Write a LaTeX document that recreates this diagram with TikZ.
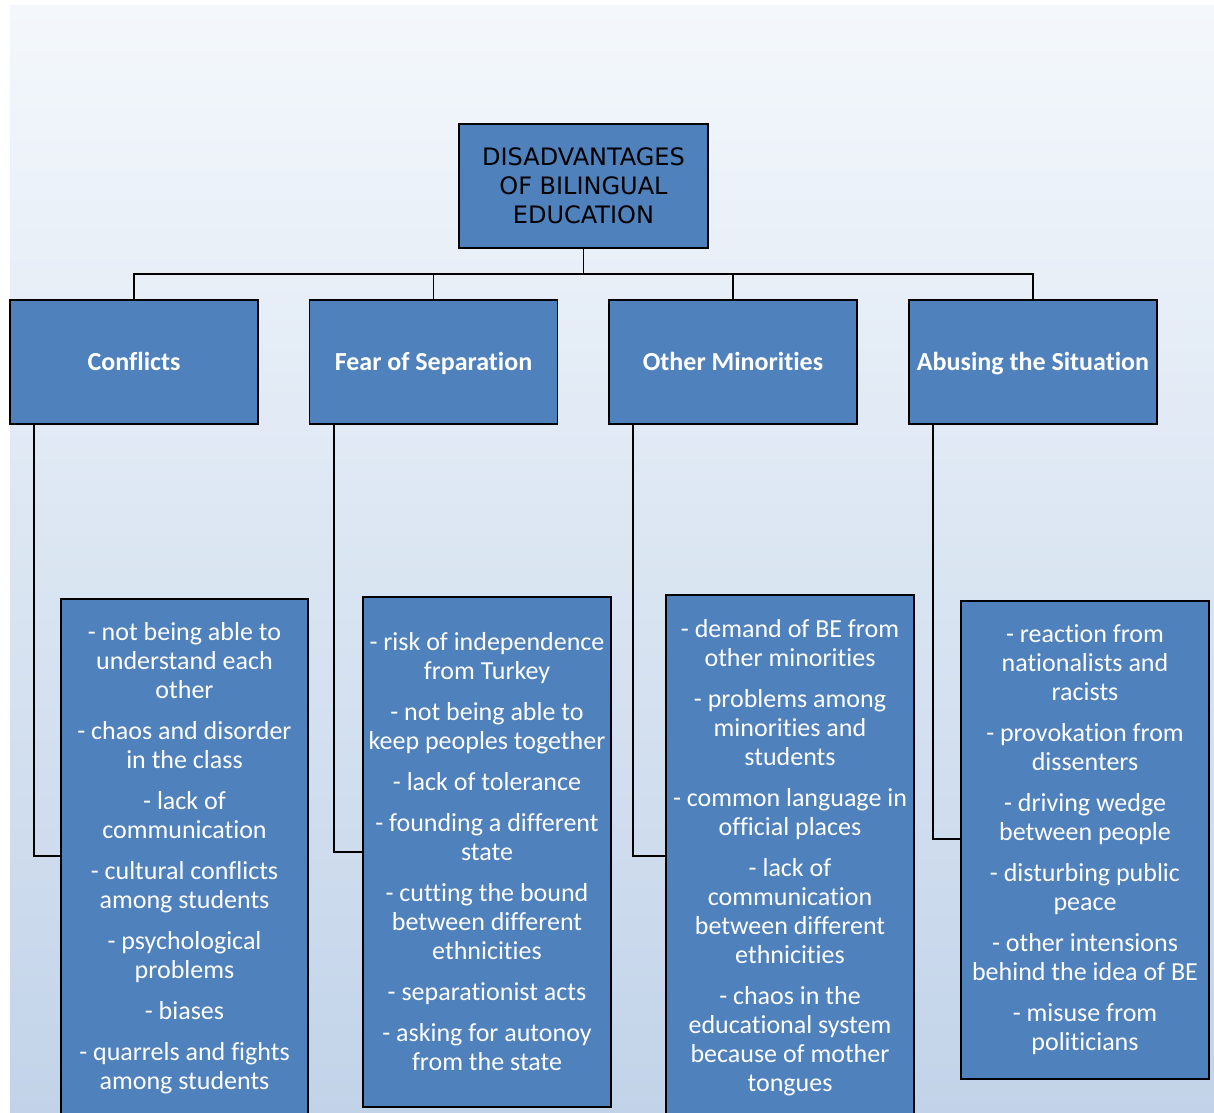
\documentclass[tikz,border=0pt]{standalone}
\usepackage{fontspec}
\setmainfont{Carlito}[Ligatures={NoCommon}]
\newfontfamily\rootfont{DejaVu Sans}
\definecolor{boxblue}{HTML}{4F81BD}
\definecolor{bgtop}{HTML}{F4F8FC}
\definecolor{bgbot}{HTML}{C2D3E9}
\begin{document}
\begin{tikzpicture}[x=1pt,y=-1pt,
  box/.style={draw=black, line width=1.9pt, fill=boxblue, inner sep=0pt, align=center},
  rootbox/.style={box, minimum width=249pt, minimum height=124pt, font=\rootfont\fontsize{24}{29}\selectfont, text=black},
  headbox/.style={box, minimum width=248pt, minimum height=124pt, text height=17pt, text depth=0pt, font=\bfseries\fontsize{26}{29}\selectfont, text=white},
  itembox/.style={box, minimum width=248pt, font=\fontsize{26}{29}\selectfont, text=white},
  link/.style={draw=black, line width=1.9pt}
]
\useasboundingbox (0,0) rectangle (1214,1112);
\clip (0,0) rectangle (1214,1112);
\fill[white] (0,0) rectangle (1214,1112);
\shade[top color=bgtop, bottom color=bgbot] (10,5) rectangle (1214,1112);

\node[rootbox] (root) at (583.5,186) {DISADVANTAGES\\OF BILINGUAL\\EDUCATION};

\node[headbox] (h1) at (134,362) {Conflicts};
\node[headbox] (h2) at (433.5,362) {Fear of Separation};
\node[headbox] (h3) at (733,362) {Other Minorities};
\node[headbox] (h4) at (1033,362) {Abusing the Situation};

\coordinate (bus) at (583.5,274);
\draw[link] (root.south) -- (root.south |- bus);
\draw[link] (h1.north) -- (h1.north |- bus) -- (h4.north |- bus) -- (h4.north);
\draw[link] (h2.north) -- (h2.north |- bus);
\draw[link] (h3.north) -- (h3.north |- bus);

\node[itembox, minimum width=247pt, minimum height=518pt] (c1) at (184.5,858)
{- not being able to\\understand each\\other\\[12pt]
 - chaos and disorder\\in the class\\[12pt]
 - lack of\\communication\\[12pt]
 - cultural conflicts\\among students\\[12pt]
 - psychological\\problems\\[12pt]
 - biases\\[12pt]
 - quarrels and fights\\among students};

\node[itembox, minimum height=510pt] (c2) at (487,852)
{- risk of independence\\from Turkey\\[12pt]
 - not being able to\\keep peoples together\\[12pt]
 - lack of tolerance\\[12pt]
 - founding a different\\state\\[12pt]
 - cutting the bound\\between different\\ethnicities\\[12pt]
 - separationist acts\\[12pt]
 - asking for autonoy\\from the state};

\node[itembox, minimum height=526pt] (c3) at (790,858)
{- demand of BE from\\other minorities\\[12pt]
 - problems among\\minorities and\\students\\[12pt]
 - common language in\\official places\\[12pt]
 - lack of\\communication\\between different\\ethnicities\\[12pt]
 - chaos in the\\educational system\\because of mother\\tongues};

\node[itembox, minimum height=478pt] (c4) at (1085,840)
{- reaction from\\nationalists and\\racists\\[12pt]
 - provokation from\\dissenters\\[12pt]
 - driving wedge\\between people\\[12pt]
 - disturbing public\\peace\\[12pt]
 - other intensions\\behind the idea of BE\\[12pt]
 - misuse from\\politicians};

\draw[link] ([xshift=25pt]h1.south west) |- ([yshift=2pt]c1.west);
\draw[link] ([xshift=25pt]h2.south west) |- (c2.west);
\draw[link] ([xshift=25pt]h3.south west) |- ([yshift=2pt]c3.west);
\draw[link] ([xshift=25pt]h4.south west) |- ([yshift=1pt]c4.west);
\end{tikzpicture}
\end{document}
